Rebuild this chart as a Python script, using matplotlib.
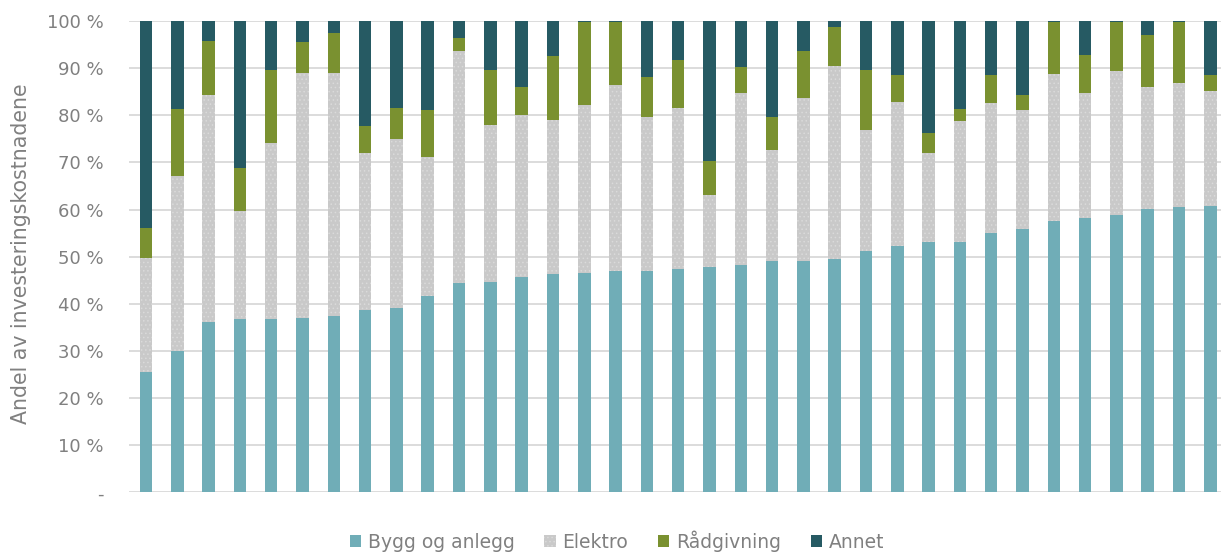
"""
Andel av investeringskostnadene per prosjekt, fordelt på kostnadstype
"""

import numpy as np
from matplotlib import pyplot as plt

# -- Data (andel i %, lest av figuren) --
categories = ['Bygg og anlegg', 'Elektro', 'Rådgivning', 'Annet']
bygg = [25.6, 30.0, 36.1, 36.8, 36.8, 37.1, 37.4, 38.8, 39.1, 41.7, 44.5, 44.7,
        45.8, 46.3, 46.5, 47.0, 47.0, 47.3, 47.8, 48.3, 49.0, 49.0, 49.5, 51.3,
        52.3, 53.1, 53.1, 55.1, 55.9, 57.6, 58.2, 58.9, 60.2, 60.5, 60.8]
elektro = [24.2, 37.1, 48.1, 22.9, 37.4, 51.9, 51.6, 33.3, 35.9, 29.5, 49.1, 33.3,
           34.2, 32.8, 35.6, 39.4, 32.6, 34.3, 15.2, 36.4, 23.7, 34.6, 41.0, 25.5,
           30.6, 18.8, 25.7, 27.5, 25.2, 31.2, 26.5, 30.4, 25.7, 26.4, 24.4]
radgivning = [6.4, 14.2, 11.6, 9.2, 15.3, 6.6, 8.4, 5.7, 6.6, 9.9, 2.7, 11.5,
              6.1, 13.4, 17.7, 13.4, 8.6, 10.1, 7.4, 5.5, 6.9, 10.0, 8.2, 12.7,
              5.6, 4.3, 2.5, 5.9, 3.3, 11.0, 8.1, 10.5, 11.2, 12.9, 3.3]
annet = [43.8, 18.7, 4.2, 31.1, 10.5, 4.4, 2.6, 22.2, 18.4, 18.9, 3.7, 10.5,
         13.9, 7.5, 0.2, 0.2, 11.8, 8.3, 29.6, 9.8, 20.4, 6.4, 1.3, 10.5,
         11.5, 23.8, 18.7, 11.5, 15.6, 0.2, 7.2, 0.2, 2.9, 0.2, 11.5]
yticks = [0, 10, 20, 30, 40, 50, 60, 70, 80, 90, 100]
yticklabels = ['-', '10 %', '20 %', '30 %', '40 %', '50 %', '60 %', '70 %',
               '80 %', '90 %', '100 %']

colors = ['#70adb7', '#c9c9c9', '#7a9130', '#265a63']
textColor = '#808080'

plt.rcParams['font.family'] = ['DejaVu Sans']
plt.rcParams['hatch.linewidth'] = 0.6

fig = plt.figure(figsize=(12.21, 5.52), dpi=100)
ax = fig.add_axes([0.1057, 0.1078, 0.8943, 0.8542])

xVals = np.arange(len(bygg))
barWidth = 0.4
bottom = np.zeros(len(bygg))
for indSeries, series in enumerate([bygg, elektro, radgivning, annet]):
    vals = np.array(series)
    if indSeries == 1:
        ax.bar(xVals, vals, barWidth, bottom=bottom, color=colors[1],
               edgecolor='#dadada', linewidth=0, hatch='....',
               label=categories[1], zorder=3)
    else:
        ax.bar(xVals, vals, barWidth, bottom=bottom, color=colors[indSeries],
               edgecolor='none', label=categories[indSeries], zorder=3)
    bottom += vals

ax.set_ylim(0, 100)
ax.set_xlim(-0.54, len(bygg) - 0.66)
ax.set_yticks(yticks)
ax.set_yticklabels(yticklabels)
ax.set_xticks([])
ax.grid(axis='y', color='#dcdcdc', lw=1.4, zorder=0)
for spine in ax.spines.values():
    spine.set_visible(False)
ax.tick_params(axis='y', length=0, pad=18.5, labelsize=13, labelcolor=textColor)
ax.set_ylabel('Andel av investeringskostnadene', fontsize=14.8, color=textColor)
ax.yaxis.set_label_coords(-0.09, 0.507)

fig.legend(loc='center', bbox_to_anchor=(0.5053, 0.02), ncol=4,
           frameon=False, fontsize=13.5, labelcolor=textColor,
           handlelength=0.6, handleheight=0.6, handletextpad=0.35,
           columnspacing=1.6)

fig.savefig('out.png', dpi=100)
